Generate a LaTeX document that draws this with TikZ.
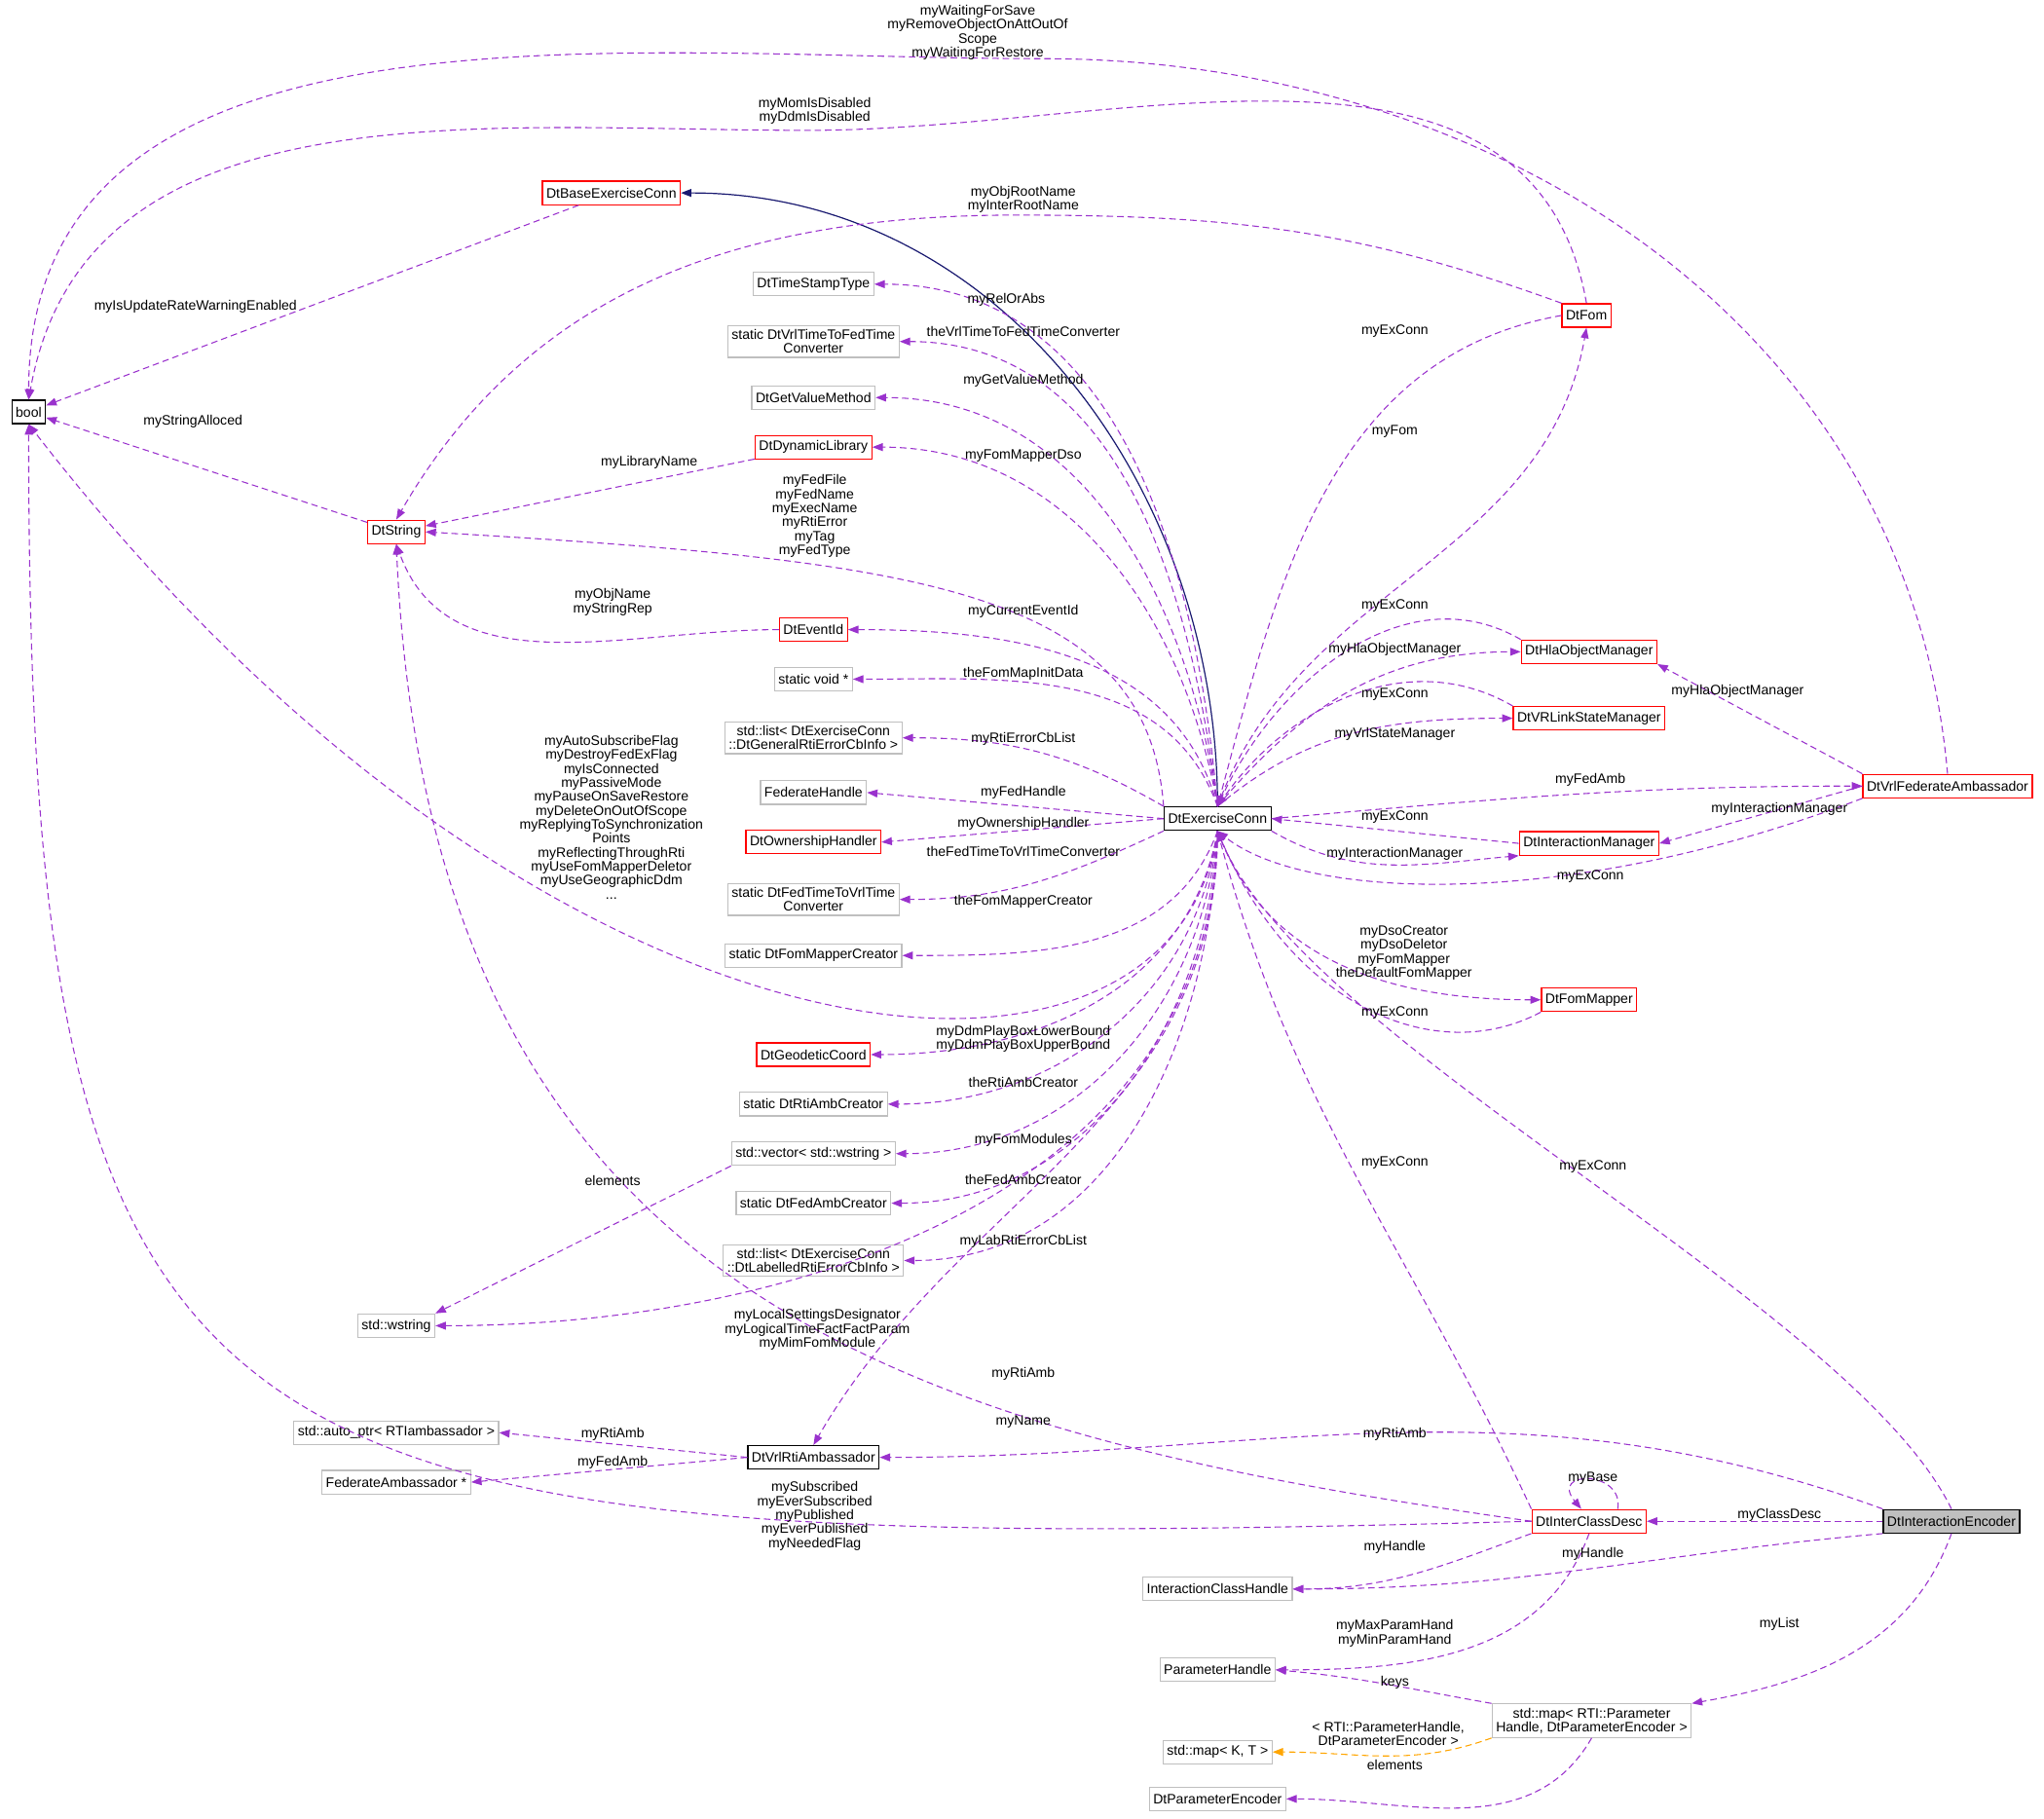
\documentclass[tikz,border=0pt]{standalone}
\usepackage{fontspec}
\setmainfont{Liberation Sans}
\usetikzlibrary{arrows.meta, positioning}
\definecolor{depc}{HTML}{9A32CD}
\definecolor{inhc}{HTML}{191970}
\definecolor{tmplc}{HTML}{FFA500}
\definecolor{grayb}{HTML}{BFBFBF}
\tikzset{
    box/.style={rectangle, draw=black, line width=0.9pt, minimum height=18pt, inner sep=3pt, align=center, font=\fontsize{10.5}{10.7}\selectfont},
    redbox/.style={box, draw=red},
    graybox/.style={box, draw=grayb},
    dep/.style={draw=depc, line width=0.8pt, dash pattern=on 5pt off 3pt, -{Triangle[length=8pt,width=6pt]}},
    inh/.style={draw=inhc, line width=0.9pt, -{Triangle[length=8pt,width=6pt]}},
    tmpl/.style={dep, draw=tmplc},
    lbl/.style={font=\fontsize{10.5}{10.7}\selectfont, align=center, inner sep=0pt},
}
\begin{document}
\begin{tikzpicture}[x=1pt, y=-1pt]
\useasboundingbox (0,0) rectangle (1568,1395);

% Classes
\node[box] (bool) at (22,316) {bool};
\node[redbox] (bec) at (469,148) {DtBaseExerciseConn};
\node[graybox] (tst) at (624,218) {DtTimeStampType};
\node[graybox] (vtf) at (624,262) {static DtVrlTimeToFedTime\\Converter};
\node[graybox] (gvm) at (624,305) {DtGetValueMethod};
\node[redbox] (dyn) at (624,343) {DtDynamicLibrary};
\node[redbox] (str) at (304,408) {DtString};
\node[redbox] (eid) at (624,483) {DtEventId};
\node[graybox] (svoid) at (624,521) {static void *};
\node[graybox] (lgen) at (624,566) {std::list< DtExerciseConn\\::DtGeneralRtiErrorCbInfo >};
\node[graybox] (fh) at (624,608) {FederateHandle};
\node[redbox] (own) at (624,646) {DtOwnershipHandler};
\node[graybox] (ftv) at (624,690) {static DtFedTimeToVrlTime\\Converter};
\node[graybox] (fmc) at (624,733) {static DtFomMapperCreator};
\node[redbox] (geo) at (624,809) {DtGeodeticCoord};
\node[graybox] (rac) at (624,847) {static DtRtiAmbCreator};
\node[graybox] (vec) at (624,885) {std::vector< std::wstring >};
\node[graybox] (fac) at (624,923) {static DtFedAmbCreator};
\node[graybox] (llab) at (624,967) {std::list< DtExerciseConn\\::DtLabelledRtiErrorCbInfo >};
\node[graybox] (wstr) at (304,1017) {std::wstring};
\node[graybox] (aptr) at (304,1099) {std::auto\_ptr< RTIambassador >};
\node[graybox] (fa) at (304,1137) {FederateAmbassador *};
\node[box] (vra) at (624,1118) {DtVrlRtiAmbassador};
\node[box] (ec) at (934,628) {DtExerciseConn};
\node[redbox] (fom) at (1217,242) {DtFom};
\node[redbox] (hom) at (1219,500) {DtHlaObjectManager};
\node[redbox] (vls) at (1219,551) {DtVRLinkStateManager};
\node[redbox] (im) at (1219,647) {DtInteractionManager};
\node[redbox] (fm) at (1219,767) {DtFomMapper};
\node[redbox] (vfa) at (1494,603) {DtVrlFederateAmbassador};
\node[redbox] (icd) at (1219,1167) {DtInterClassDesc};
\node[box, fill=grayb] (ie) at (1497,1167) {DtInteractionEncoder};
\node[graybox] (ich) at (934,1219) {InteractionClassHandle};
\node[graybox] (ph) at (934,1281) {ParameterHandle};
\node[graybox] (mrt) at (1221,1320) {std::map< RTI::Parameter\\Handle, DtParameterEncoder >};
\node[graybox] (mkt) at (934,1344) {std::map< K, T >};
\node[graybox] (pe) at (934,1380) {DtParameterEncoder};

% Inheritance
\draw[inh] (ec.north) to[out=90,in=0] (bec.east);

% Members of DtExerciseConn
\draw[dep] (ec.north) to[out=95,in=0] (tst.east);
\draw[dep] (ec.north) to[out=97,in=0] (vtf.east);
\draw[dep] (ec.north) to[out=98,in=0] (gvm.east);
\draw[dep] (ec.north) to[out=100,in=0] (dyn.east);
\draw[dep] (ec.north west) .. controls (880,450) and (700,430) .. (str.east);
\draw[dep] (ec.north) to[out=105,in=0] (eid.east);
\draw[dep] (ec.north) to[out=110,in=0] (svoid.east);
\draw[dep] (ec.north west) to[out=150,in=0] (lgen.east);
\draw[dep] (ec.west) -- (fh.east);
\draw[dep] (ec.west) -- (own.east);
\draw[dep] (ec.south west) to[out=205,in=0] (ftv.east);
\draw[dep] (ec.south) to[out=-110,in=0] (fmc.east);
\draw[dep] (ec.south) .. controls (900,880) and (420,840) .. (bool.south);
\draw[dep] (ec.south) to[out=-100,in=0] (geo.east);
\draw[dep] (ec.south) to[out=-97,in=0] (rac.east);
\draw[dep] (ec.south) to[out=-95,in=0] (vec.east);
\draw[dep] (ec.south) to[out=-93,in=0] (fac.east);
\draw[dep] (ec.south) to[out=-92,in=0] (llab.east);
\draw[dep] (ec.south) to[out=-91,in=0] (wstr.east);
\draw[dep] (ec.south) to[out=-90,in=60] (vra.north);
\draw[dep] (ec.north) to[out=70,in=-100] (fom.south);
\draw[dep] (ec.north) to[out=50,in=180] (hom.west);
\draw[dep] (ec.north) to[out=40,in=180] (vls.west);
\draw[dep] (ec.east) to[out=5,in=180] (vfa.west);
\draw[dep] (ec.south east) to[out=-30,in=185] (im.south west);
\draw[dep] (ec.south) to[out=-70,in=180] (fm.west);

% Back references
\draw[dep] (bec) -- (bool);
\draw[dep] (vfa.north) to[out=95,in=0] (800,45) to[out=180,in=90] (bool.north);
\draw[dep] (fom.north) to[out=100,in=0] (620,100) to[out=180,in=80] (bool.north);
\draw[dep] (fom.north west) to[out=160,in=0] (780,165) to[out=180,in=60] (str.north);
\draw[dep] (str) -- (bool);
\draw[dep] (dyn) -- (str);
\draw[dep] (eid.west) to[out=180,in=-70] (str.south);
\draw[dep] (vec.south west) -- (wstr.north east);
\draw[dep] (vra.west) -- (aptr.east);
\draw[dep] (vra.west) -- (fa.east);
\draw[dep] (fom.west) to[out=190,in=75] (ec.north);
\draw[dep] (hom.north west) to[out=150,in=65] (ec.north);
\draw[dep] (vls.north west) to[out=150,in=55] (ec.north);
\draw[dep] (im.west) -- (ec.east);
\draw[dep] (vfa.south west) .. controls (1200,700) and (1000,690) .. (ec.south);
\draw[dep] (vfa.north west) -- (hom.south east);
\draw[dep] (vfa.west) -- (im.east);
\draw[dep] (fm.south west) .. controls (1100,820) and (990,770) .. (ec.south);
\draw[dep] (icd.north west) to[out=115,in=-75] (ec.south);
\draw[dep] (ie.north) .. controls (1420,1000) and (1000,800) .. (ec.south);
\draw[dep] (ie.north west) to[out=160,in=0] (vra.east);
\draw[dep] (icd.west) .. controls (700,1100) and (330,1000) .. (str.south);
\draw[dep] ([xshift=22pt]icd.north) .. controls +(5,-30) and +(-25,-30) .. ([xshift=-6pt]icd.north);
\draw[dep] (ie.west) -- (icd.east);
\draw[dep] (icd.west) .. controls (150,1195) and (22,1150) .. (bool.south);
\draw[dep] (icd.south west) to[out=200,in=0] (ich.east);
\draw[dep] (ie.south west) to[out=185,in=0] (ich.east);
\draw[dep] (icd.south) to[out=-110,in=0] (ph.east);
\draw[dep] (ie.south) to[out=-110,in=10] (mrt.north east);
\draw[dep] (mrt.north west) to[out=170,in=-5] (ph.east);
\draw[tmpl] (mrt.south west) to[out=200,in=0] (mkt.east);
\draw[dep] (mrt.south) to[out=-120,in=0] (pe.east);

% Labels
\node[lbl] (lIsUpd) at (150,235) {myIsUpdateRateWarningEnabled};
\node[lbl] (lSave) at (750,25) {myWaitingForSave\\myRemoveObjectOnAttOutOf\\Scope\\myWaitingForRestore};
\node[lbl] (lMom) at (625,85) {myMomIsDisabled\\myDdmIsDisabled};
\node[lbl] (lRoot) at (785,153) {myObjRootName\\myInterRootName};
\node[lbl] (lAlloc) at (148,323) {myStringAlloced};
\node[lbl] (lLib) at (498,355) {myLibraryName};
\node[lbl] (lFed) at (625,396) {myFedFile\\myFedName\\myExecName\\myRtiError\\myTag\\myFedType};
\node[lbl] (lObjN) at (470,462) {myObjName\\myStringRep};
\node[lbl] (lRel) at (772,230) {myRelOrAbs};
\node[lbl] (lVtf) at (785,254) {theVrlTimeToFedTimeConverter};
\node[lbl] (lGvm) at (785,292) {myGetValueMethod};
\node[lbl] (lDso) at (785,350) {myFomMapperDso};
\node[lbl] (lEid) at (785,469) {myCurrentEventId};
\node[lbl] (lInit) at (785,517) {theFomMapInitData};
\node[lbl] (lErr) at (785,567) {myRtiErrorCbList};
\node[lbl] (lFh) at (785,608) {myFedHandle};
\node[lbl] (lOwn) at (785,632) {myOwnershipHandler};
\node[lbl] (lFtv) at (785,653) {theFedTimeToVrlTimeConverter};
\node[lbl] (lFmc) at (785,692) {theFomMapperCreator};
\node[lbl] (lFlags) at (469,627) {myAutoSubscribeFlag\\myDestroyFedExFlag\\myIsConnected\\myPassiveMode\\myPauseOnSaveRestore\\myDeleteOnOutOfScope\\myReplyingToSynchronization\\Points\\myReflectingThroughRti\\myUseFomMapperDeletor\\myUseGeographicDdm\\...};
\node[lbl] (lDdm) at (785,797) {myDdmPlayBoxLowerBound\\myDdmPlayBoxUpperBound};
\node[lbl] (lRac) at (785,830) {theRtiAmbCreator};
\node[lbl] (lMods) at (785,875) {myFomModules};
\node[lbl] (lFac) at (785,905) {theFedAmbCreator};
\node[lbl] (lLab) at (785,952) {myLabRtiErrorCbList};
\node[lbl] (lLoc) at (627,1020) {myLocalSettingsDesignator\\myLogicalTimeFactFactParam\\myMimFomModule};
\node[lbl] (lRti1) at (785,1054) {myRtiAmb};
\node[lbl] (lElem1) at (470,906) {elements};
\node[lbl] (lRti2) at (470,1100) {myRtiAmb};
\node[lbl] (lFedA) at (470,1122) {myFedAmb};
\node[lbl] (lEx1) at (1070,254) {myExConn};
\node[lbl] (lFom) at (1070,331) {myFom};
\node[lbl] (lEx2) at (1070,465) {myExConn};
\node[lbl] (lHom1) at (1070,498) {myHlaObjectManager};
\node[lbl] (lEx3) at (1070,533) {myExConn};
\node[lbl] (lVrl) at (1070,563) {myVrlStateManager};
\node[lbl] (lFedAmb) at (1220,598) {myFedAmb};
\node[lbl] (lEx4) at (1070,627) {myExConn};
\node[lbl] (lIm1) at (1070,655) {myInteractionManager};
\node[lbl] (lEx5) at (1220,672) {myExConn};
\node[lbl] (lHom2) at (1333,530) {myHlaObjectManager};
\node[lbl] (lIm2) at (1365,621) {myInteractionManager};
\node[lbl] (lDsoC) at (1077,731) {myDsoCreator\\myDsoDeletor\\myFomMapper\\theDefaultFomMapper};
\node[lbl] (lEx6) at (1070,777) {myExConn};
\node[lbl] (lEx7) at (1070,892) {myExConn};
\node[lbl] (lEx8) at (1222,895) {myExConn};
\node[lbl] (lRti3) at (1070,1100) {myRtiAmb};
\node[lbl] (lName) at (785,1091) {myName};
\node[lbl] (lBase) at (1222,1134) {myBase};
\node[lbl] (lCls) at (1365,1162) {myClassDesc};
\node[lbl] (lSub) at (625,1163) {mySubscribed\\myEverSubscribed\\myPublished\\myEverPublished\\myNeededFlag};
\node[lbl] (lH1) at (1070,1187) {myHandle};
\node[lbl] (lH2) at (1222,1192) {myHandle};
\node[lbl] (lPar) at (1070,1253) {myMaxParamHand\\myMinParamHand};
\node[lbl] (lList) at (1365,1246) {myList};
\node[lbl] (lKeys) at (1070,1291) {keys};
\node[lbl] (lTmpl) at (1065,1330) {< RTI::ParameterHandle,\\DtParameterEncoder >};
\node[lbl] (lElem2) at (1070,1354) {elements};
\end{tikzpicture}
\end{document}
